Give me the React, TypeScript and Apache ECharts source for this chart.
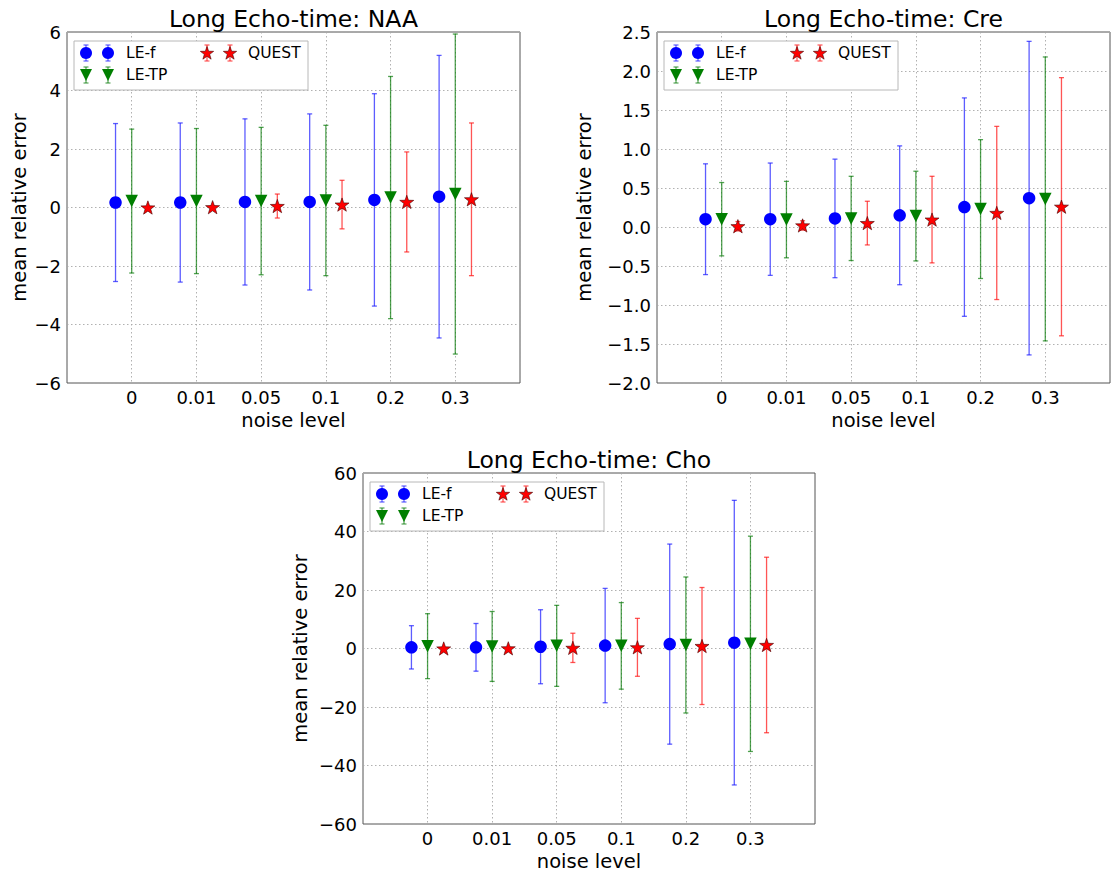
import React, { useEffect, useRef } from 'react';
import * as echarts from 'echarts';

// ---------- data ----------
const categories = ['0', '0.01', '0.05', '0.1', '0.2', '0.3'];
const methodNames = ['LE-f', 'LE-TP', 'QUEST'];
const methodOffsets = [-0.25, 0, 0.25];

// NAA
const naaLEfMean = [0.17, 0.17, 0.19, 0.19, 0.26, 0.37];
const naaLEfErr = [2.70, 2.72, 2.84, 3.01, 3.63, 4.83];
const naaLETPMean = [0.22, 0.22, 0.22, 0.24, 0.34, 0.46];
const naaLETPErr = [2.46, 2.48, 2.52, 2.57, 4.14, 5.47];
const naaQUESTMean = [0.0, 0.01, 0.05, 0.1, 0.19, 0.28];
const naaQUESTErr = [0.03, 0.04, 0.41, 0.83, 1.71, 2.61];

// Cre
const creLEfMean = [0.10, 0.10, 0.11, 0.15, 0.255, 0.37];
const creLEfErr = [0.71, 0.72, 0.76, 0.89, 1.40, 2.01];
const creLETPMean = [0.10, 0.095, 0.11, 0.14, 0.23, 0.36];
const creLETPErr = [0.47, 0.49, 0.54, 0.575, 0.89, 1.82];
const creQUESTMean = [0.01, 0.02, 0.05, 0.095, 0.18, 0.26];
const creQUESTErr = [0.06, 0.06, 0.28, 0.555, 1.11, 1.655];

// Cho
const choLEfMean = [0.4, 0.4, 0.6, 1.0, 1.5, 2.0];
const choLEfErr = [7.4, 8.15, 12.65, 19.55, 34.2, 48.65];
const choLETPMean = [0.8, 0.7, 0.9, 0.9, 1.2, 1.6];
const choLETPErr = [11.1, 11.95, 13.85, 14.8, 23.25, 36.8];
const choQUESTMean = [0.0, 0.05, 0.22, 0.4, 0.85, 1.2];
const choQUESTErr = [0.3, 0.3, 5.0, 9.9, 20.0, 30.0];

const naaYTicks = { min: -6, max: 6, interval: 2 };
const creYTicks = { min: -2, max: 2.5, interval: 0.5 };
const choYTicks = { min: -60, max: 60, interval: 20 };

// ---------- styles ----------
const FONT = 'DejaVu Sans';
const markerColors = ['#0000ff', '#007f00', '#ff0000'];
const barColors = ['rgba(30,30,255,0.72)', 'rgba(0,120,0,0.68)', 'rgba(255,20,20,0.72)'];
const gridLine = { color: '#a8a8a8', type: [1.5, 2.5], width: 0.9 };

const starPoints = (cx: number, cy: number, r: number) => {
  const pts: number[][] = [];
  for (let i = 0; i < 10; i++) {
    const a = (-90 + i * 36) * Math.PI / 180;
    const rr = i % 2 === 0 ? r : r * 0.4;
    pts.push([cx + rr * Math.cos(a), cy + rr * Math.sin(a)]);
  }
  return pts;
};
const starPath = 'path://' + starPoints(0, 0, 10)
  .map((p, i) => (i === 0 ? 'M' : 'L') + p[0].toFixed(3) + ',' + p[1].toFixed(3))
  .join(' ') + ' Z';

const fmtMinus = (v: number, dec: number) => {
  const s = Math.abs(v).toFixed(dec);
  return v < 0 ? '\u2212' + s : s;
};

type Panel = {
  title: string;
  box: { left: number; top: number; width: number; height: number };
  y: { min: number; max: number; interval: number };
  dec: number;
  nameGap: number;
  means: number[][];
  errs: number[][];
};

const panels: Panel[] = [
  {
    title: 'Long Echo-time: NAA',
    box: { left: 67, top: 32, width: 453, height: 351 },
    y: naaYTicks, dec: 0, nameGap: 38,
    means: [naaLEfMean, naaLETPMean, naaQUESTMean],
    errs: [naaLEfErr, naaLETPErr, naaQUESTErr],
  },
  {
    title: 'Long Echo-time: Cre',
    box: { left: 657, top: 32, width: 453, height: 351 },
    y: creYTicks, dec: 1, nameGap: 63,
    means: [creLEfMean, creLETPMean, creQUESTMean],
    errs: [creLEfErr, creLETPErr, creQUESTErr],
  },
  {
    title: 'Long Echo-time: Cho',
    box: { left: 363, top: 473, width: 452, height: 351 },
    y: choYTicks, dec: 0, nameGap: 53,
    means: [choLEfMean, choLETPMean, choQUESTMean],
    errs: [choLEfErr, choLETPErr, choQUESTErr],
  },
];

function legendElements(bx: number, by: number, z: number) {
  const lx = bx + 7;
  const ly = by + 9;
  const els: any[] = [];
  els.push({
    type: 'rect', z,
    shape: { x: lx, y: ly, width: 234, height: 49 },
    style: { fill: '#ffffff', stroke: '#b8b8b8', lineWidth: 1 },
  });
  const entries = [
    { m: 0, xs: [bx + 19, bx + 41], tx: bx + 59, y: by + 21 },
    { m: 1, xs: [bx + 19, bx + 41], tx: bx + 59, y: by + 43 },
    { m: 2, xs: [bx + 140, bx + 163], tx: bx + 181, y: by + 21 },
  ];
  entries.forEach((e) => {
    e.xs.forEach((x) => {
      const bs = { stroke: barColors[e.m], lineWidth: 1.2 };
      els.push({ type: 'line', z: z + 1, shape: { x1: x, y1: e.y - 8, x2: x, y2: e.y + 8 }, style: bs });
      els.push({ type: 'line', z: z + 1, shape: { x1: x - 2.5, y1: e.y - 8, x2: x + 2.5, y2: e.y - 8 }, style: bs });
      els.push({ type: 'line', z: z + 1, shape: { x1: x - 2.5, y1: e.y + 8, x2: x + 2.5, y2: e.y + 8 }, style: bs });
      if (e.m === 0) {
        els.push({ type: 'circle', z: z + 2, shape: { cx: x, cy: e.y, r: 6 }, style: { fill: markerColors[0] } });
      } else if (e.m === 1) {
        els.push({
          type: 'polygon', z: z + 2,
          shape: { points: [[x - 6, e.y - 6], [x + 6, e.y - 6], [x, e.y + 6]] },
          style: { fill: markerColors[1] },
        });
      } else {
        els.push({
          type: 'polygon', z: z + 2,
          shape: { points: starPoints(x, e.y + 0.5, 7) },
          style: { fill: markerColors[2], stroke: '#440000', lineWidth: 0.6 },
        });
      }
    });
    els.push({
      type: 'text', z: z + 2, x: e.tx, y: e.y,
      style: { text: methodNames[e.m], font: `15.5px "${FONT}"`, fill: '#000', textVerticalAlign: 'middle', textAlign: 'left' },
    });
  });
  return els;
}

export default function App() {
  const ref = useRef<HTMLDivElement>(null);
  useEffect(() => {
    if (!ref.current) return;
    const chart = echarts.init(ref.current, undefined, { renderer: 'svg' });

    const grid: any[] = [];
    const xAxis: any[] = [];
    const yAxis: any[] = [];
    const series: any[] = [];
    const graphic: any[] = [];

    panels.forEach((p, pi) => {
      grid.push({
        left: p.box.left, top: p.box.top, width: p.box.width, height: p.box.height,
        show: true, borderColor: '#555', borderWidth: 1, backgroundColor: 'transparent',
        containLabel: false,
      });
      xAxis.push({
        type: 'value', gridIndex: pi, min: 0, max: 7, interval: 1,
        name: 'noise level', nameLocation: 'middle', nameGap: 27,
        nameTextStyle: { fontFamily: FONT, fontSize: 19.5, color: '#000' },
        axisLine: { show: false },
        axisTick: { show: false },
        axisLabel: {
          fontFamily: FONT, fontSize: 18, color: '#000', margin: 5,
          formatter: (v: number) => (v >= 1 && v <= 6 ? categories[Math.round(v) - 1] : ''),
        },
        splitLine: { show: true, lineStyle: gridLine },
      });
      yAxis.push({
        type: 'value', gridIndex: pi, min: p.y.min, max: p.y.max, interval: p.y.interval,
        name: 'mean relative error', nameLocation: 'middle', nameGap: p.nameGap,
        nameTextStyle: { fontFamily: FONT, fontSize: 19.5, color: '#000' },
        axisLine: { show: false },
        axisTick: { show: false },
        axisLabel: {
          fontFamily: FONT, fontSize: 18, color: '#000', margin: 6,
          formatter: (v: number) => fmtMinus(v, p.dec),
        },
        splitLine: { show: true, lineStyle: gridLine },
      });

      for (let m = 0; m < 3; m++) {
        const mean = p.means[m];
        const err = p.errs[m];
        const off = methodOffsets[m];
        const barColor = barColors[m];
        series.push({
          type: 'custom',
          name: methodNames[m] + ' err',
          xAxisIndex: pi, yAxisIndex: pi,
          z: 2 + m * 2,
          encode: { x: 0, y: [1, 2] },
          data: mean.map((v, i) => [i + 1 + off, v - err[i], v + err[i]]),
          renderItem: (_params: any, api: any) => {
            const x = api.value(0);
            const lo = api.coord([x, api.value(1)]);
            const hi = api.coord([x, api.value(2)]);
            const c = 2.5;
            const style = { stroke: barColor, lineWidth: 1.3, fill: 'none' };
            return {
              type: 'group',
              children: [
                { type: 'line', shape: { x1: lo[0], y1: lo[1], x2: hi[0], y2: hi[1] }, style },
                { type: 'line', shape: { x1: lo[0] - c, y1: lo[1], x2: lo[0] + c, y2: lo[1] }, style },
                { type: 'line', shape: { x1: hi[0] - c, y1: hi[1], x2: hi[0] + c, y2: hi[1] }, style },
              ],
            };
          },
        });
        const sym = m === 0 ? 'circle' : m === 1 ? 'triangle' : starPath;
        series.push({
          type: 'scatter',
          name: methodNames[m],
          xAxisIndex: pi, yAxisIndex: pi,
          z: 3 + m * 2,
          symbol: sym,
          symbolKeepAspect: true,
          symbolRotate: m === 1 ? 180 : 0,
          symbolSize: m === 0 ? 12.5 : m === 1 ? 12.5 : 14,
          itemStyle: m === 2
            ? { color: markerColors[m], borderColor: '#440000', borderWidth: 0.6, opacity: 1 }
            : { color: markerColors[m], opacity: 1 },
          data: mean.map((v, i) => [i + 1 + off, v]),
        });
      }

      graphic.push({
        type: 'text', z: 100,
        x: p.box.left + p.box.width / 2, y: p.box.top - 1,
        style: { text: p.title, font: `23.5px "${FONT}"`, fill: '#000', textAlign: 'center', textVerticalAlign: 'bottom' },
      });
      legendElements(p.box.left, p.box.top, 100).forEach((e) => graphic.push(e));
    });

    chart.setOption({
      animation: false,
      backgroundColor: '#ffffff',
      grid, xAxis, yAxis, series,
      graphic: { elements: graphic },
    });
    return () => chart.dispose();
  }, []);
  return (
    <div
      ref={ref}
      style={{ position: 'absolute', left: 0, top: 0, width: 1113, height: 877, background: '#fff' }}
    />
  );
}
